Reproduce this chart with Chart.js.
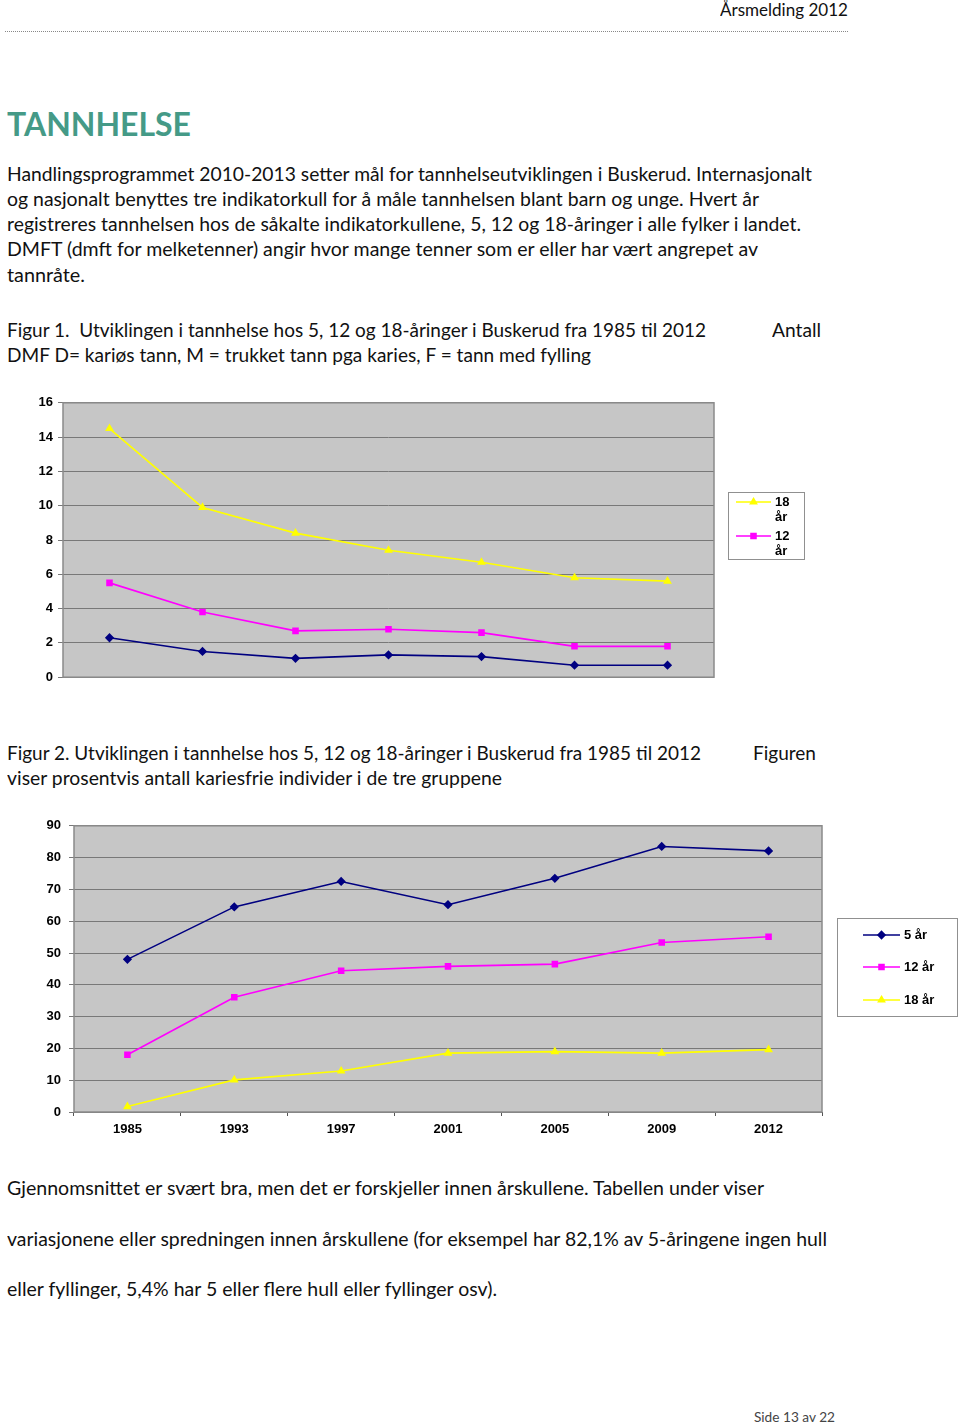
<!DOCTYPE html>
<html>
<head>
<meta charset="utf-8">
<script src="https://cdn.jsdelivr.net/npm/chart.js@4.4.1/dist/chart.umd.min.js"></script>
<style>
  html, body { margin: 0; padding: 0; background: #fff; }
  body { width: 960px; height: 1424px; position: relative; overflow: hidden; font-family: Lato, "Open Sans", sans-serif; color: #111; }
  .t { position: absolute; white-space: nowrap; line-height: 1.2; transform-origin: 0 0; }
  .rule { position: absolute; left: 5px; top: 31px; width: 843px; border-top: 1px dotted #888; }
  .box { position: absolute; }
</style>
</head>
<body>
<div class="t" data-x="720" data-b="17" data-f="16.5" data-w="128">Årsmelding 2012</div>
<div class="rule"></div>

<div class="t" data-x="7" data-b="136.5" data-f="32" data-w="184" style="font-weight:700;color:#459a87">TANNHELSE</div>

<div class="t" data-x="7" data-b="181" data-f="19.5" data-w="805">Handlingsprogrammet 2010-2013 setter mål for tannhelseutviklingen i Buskerud. Internasjonalt</div>
<div class="t" data-x="7" data-b="206" data-f="19.5" data-w="752">og nasjonalt benyttes tre indikatorkull for å måle tannhelsen blant barn og unge. Hvert år</div>
<div class="t" data-x="7" data-b="231" data-f="19.5" data-w="794">registreres tannhelsen hos de såkalte indikatorkullene, 5, 12 og 18-åringer i alle fylker i landet.</div>
<div class="t" data-x="7" data-b="256.5" data-f="19.5" data-w="751">DMFT (dmft for melketenner) angir hvor mange tenner som er eller har vært angrepet av</div>
<div class="t" data-x="7" data-b="282" data-f="19.5" data-w="78">tannråte.</div>

<div class="t" data-x="7" data-b="337" data-f="19.5" data-w="699">Figur 1.&nbsp; Utviklingen i tannhelse hos 5, 12 og 18-åringer i Buskerud fra 1985 til 2012</div>
<div class="t" data-x="772" data-b="337" data-f="19.5" data-w="49">Antall</div>
<div class="t" data-x="7" data-b="362" data-f="19.5" data-w="584">DMF D= kariøs tann, M = trukket tann pga karies, F = tann med fylling</div>

<div class="t" data-x="7" data-b="760.5" data-f="19.5" data-w="694">Figur 2. Utviklingen i tannhelse hos 5, 12 og 18-åringer i Buskerud fra 1985 til 2012</div>
<div class="t" data-x="753" data-b="760.5" data-f="19.5" data-w="63">Figuren</div>
<div class="t" data-x="7" data-b="785.5" data-f="19.5" data-w="495">viser prosentvis antall kariesfrie individer i de tre gruppene</div>

<div class="t" data-x="7" data-b="1195.5" data-f="19.5" data-w="757">Gjennomsnittet er svært bra, men det er forskjeller innen årskullene. Tabellen under viser</div>
<div class="t" data-x="7" data-b="1246" data-f="19.5" data-w="820">variasjonene eller spredningen innen årskullene (for eksempel har 82,1% av 5-åringene ingen hull</div>
<div class="t" data-x="7" data-b="1296" data-f="19.5" data-w="490">eller fyllinger, 5,4% har 5 eller flere hull eller fyllinger osv).</div>

<div class="t" data-x="754" data-b="1423" data-f="13" data-w="81" style="color:#444">Side 13 av 22</div>

<div class="box" style="left:0;top:390px;width:820px;height:300px"><canvas id="dmftChart"></canvas></div>
<div class="box" style="left:0;top:810px;width:960px;height:330px"><canvas id="friskeChart"></canvas></div>

<script>
// data
const years = ['1985', '1993', '1997', '2001', '2005', '2009', '2012'];
const seriesNames = ['5 år', '12 år', '18 år'];

// Figur 1: DMFT
const dmft5 = [2.3, 1.5, 1.1, 1.3, 1.2, 0.7, 0.7];
const dmft12 = [5.5, 3.8, 2.7, 2.8, 2.6, 1.8, 1.8];
const dmft18 = [14.5, 9.9, 8.4, 7.4, 6.7, 5.8, 5.6];
const dmftMax = 16;
const dmftStep = 2;

// Figur 2: prosent kariesfrie
const fri5 = [48, 64.5, 72.5, 65.2, 73.5, 83.5, 82.1];
const fri12 = [18, 36.1, 44.4, 45.8, 46.5, 53.3, 55.1];
const fri18 = [1.7, 10.1, 12.9, 18.5, 19, 18.5, 19.6];
const friMax = 90;
const friStep = 10;

// place the text lines on their baselines and fit widths
document.querySelectorAll('.t').forEach(function (el) {
    const f = parseFloat(el.dataset.f);
    el.style.fontSize = f + 'px';
    el.style.left = el.dataset.x + 'px';
    el.style.top = (parseFloat(el.dataset.b) - 0.987 * f) + 'px';
    const w = el.getBoundingClientRect().width;
    el.style.transform = 'scaleX(' + (parseFloat(el.dataset.w) / w) + ')';
});

const colors = ['#000080', '#ff00ff', '#ffff00'];
const markers = ['rectRot', 'rect', 'triangle'];
const radii = [3.5, 3.5, 3.5];

const tickFont = { family: '"Liberation Sans", Arial, sans-serif', size: 13, weight: 'bold' };

const plotArea = {
    id: 'plotArea',
    beforeDraw(chart) {
        const { ctx, chartArea: a } = chart;
        ctx.save();
        ctx.fillStyle = '#c6c6c6';
        ctx.fillRect(a.left, a.top, a.right - a.left, a.bottom - a.top);
        ctx.restore();
    },
    beforeDatasetsDraw(chart) {
        const { ctx, chartArea: a } = chart;
        ctx.save();
        ctx.strokeStyle = '#8a8a8a';
        ctx.lineWidth = 1.5;
        ctx.strokeRect(a.left, a.top, a.right - a.left, a.bottom - a.top);
        ctx.restore();
    }
};

const boxLegend = {
    id: 'boxLegend',
    afterDraw(chart, args, o) {
        if (!o.items) return;
        const ctx = chart.ctx;
        ctx.save();
        ctx.fillStyle = '#fff';
        ctx.fillRect(o.x, o.y, o.w, o.h);
        ctx.strokeStyle = '#909090';
        ctx.lineWidth = 1;
        ctx.strokeRect(o.x + 0.5, o.y + 0.5, o.w, o.h);
        o.items.forEach(function (it) {
            const ds = chart.data.datasets[it.index];
            const y = o.y + it.dy;
            ctx.strokeStyle = ds.borderColor;
            ctx.lineWidth = ds.borderWidth;
            ctx.beginPath();
            ctx.moveTo(o.x + o.x0, y);
            ctx.lineTo(o.x + o.x1, y);
            ctx.stroke();
            ctx.fillStyle = ds.pointBackgroundColor;
            ctx.strokeStyle = ds.pointBorderColor;
            Chart.helpers.drawPoint(ctx, { pointStyle: ds.pointStyle, radius: ds.pointRadius, rotation: 0, borderWidth: 1 }, o.x + (o.x0 + o.x1) / 2, y);
            ctx.fillStyle = '#000';
            ctx.font = 'bold 13px "Liberation Sans", Arial, sans-serif';
            ctx.textBaseline = 'middle';
            it.text.forEach(function (line, k) {
                ctx.fillText(line, o.x + o.tx, y + k * o.lh);
            });
        });
        ctx.restore();
    }
};

function makeSets(a, b, c) {
    return [a, b, c].map(function (vals, i) {
        return {
            label: seriesNames[i],
            data: vals,
            borderColor: colors[i],
            backgroundColor: colors[i],
            pointBackgroundColor: colors[i],
            pointBorderColor: colors[i],
            borderWidth: 1.6,
            pointStyle: markers[i],
            pointRadius: radii[i],
            tension: 0
        };
    });
}

function makeOptions(max, step, yWidth, pad, showX, legendOpts) {
    return {
        responsive: true,
        maintainAspectRatio: false,
        animation: false,
        layout: { padding: pad },
        plugins: { legend: { display: false }, tooltip: { enabled: false }, boxLegend: legendOpts },
        scales: {
            x: {
                offset: true,
                border: { display: false },
                grid: { display: showX, drawOnChartArea: false, offset: true, tickLength: 4, color: '#555' },
                ticks: { display: showX, color: '#000', font: tickFont, padding: 6, maxRotation: 0 },
                afterFit: function (s) { s.height = showX ? 28 : 0; }
            },
            y: {
                min: 0, max: max,
                border: { display: false },
                grid: { color: '#787878', lineWidth: 1, tickLength: 5 },
                ticks: { stepSize: step, color: '#000', font: tickFont, padding: yWidth === 63 ? 5 : 8 },
                afterFit: function (s) { s.width = yWidth; }
            }
        }
    };
}

new Chart(document.getElementById('dmftChart').getContext('2d'), {
    type: 'line',
    data: { labels: years, datasets: makeSets(dmft5, dmft12, dmft18) },
    options: makeOptions(dmftMax, dmftStep, 63, { top: 11, right: 106, bottom: 12, left: 0 }, false, {
        x: 728, y: 102, w: 76, h: 67, x0: 8, x1: 43, tx: 47, lh: 15,
        items: [{ index: 2, dy: 10, text: ['18', 'år'] }, { index: 1, dy: 44, text: ['12', 'år'] }]
    }),
    plugins: [plotArea, boxLegend]
});

new Chart(document.getElementById('friskeChart').getContext('2d'), {
    type: 'line',
    data: { labels: years, datasets: makeSets(fri5, fri12, fri18) },
    options: makeOptions(friMax, friStep, 74, { top: 14, right: 138, bottom: 0, left: 0 }, true, {
        x: 837, y: 108, w: 120, h: 98, x0: 26, x1: 63, tx: 67, lh: 15,
        items: [{ index: 0, dy: 17, text: ['5 år'] }, { index: 1, dy: 49, text: ['12 år'] }, { index: 2, dy: 82, text: ['18 år'] }]
    }),
    plugins: [plotArea, boxLegend]
});
</script>
</body>
</html>
